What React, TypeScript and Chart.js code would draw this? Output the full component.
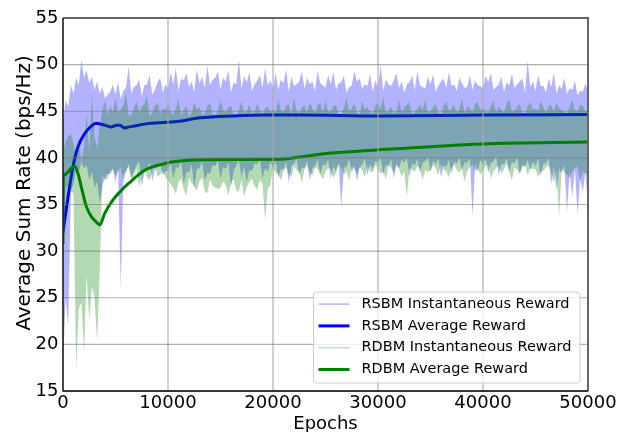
import { useEffect, useRef } from "react";
import { Chart, registerables } from "chart.js";

Chart.register(...registerables);

// ---------- data ----------
// Instantaneous rewards are dense; each is given as the upper and lower envelope
// of the noisy trace per 250-epoch bin (epoch = index * EPOCH_STEP).
const EPOCH_STEP = 250;

const RSBM_HIGH = [
  44.0, 46.2, 45.5, 47.8, 46.9, 48.6, 47.8, 50.5, 48.6, 49.4, 48.0, 48.7, 47.3, 48.2, 46.9, 47.6, 46.4, 46.8, 47.1, 47.9,
  46.8, 48.1, 46.3, 47.2, 47.5, 49.8, 46.9, 47.6, 47.8, 48.4, 46.6, 47.8, 47.9, 48.9, 46.8, 47.3, 48.1, 48.6, 47.0, 47.9,
  47.4, 49.2, 47.9, 49.7, 47.2, 48.5, 48.3, 49.1, 47.6, 48.2, 47.1, 49.5, 48.0, 48.7, 47.5, 49.9, 47.8, 48.4, 48.6, 49.3,
  47.3, 48.6, 48.2, 49.4, 47.0, 48.1, 47.9, 50.5, 47.4, 48.8, 48.1, 49.2, 47.2, 47.9, 48.3, 48.9, 47.5, 49.6, 47.8, 48.3,
  47.6, 49.1, 47.3, 48.4, 48.0, 49.5, 47.1, 48.7, 47.7, 47.9, 48.2, 49.3, 47.4, 48.6, 47.9, 48.2, 47.2, 49.4, 48.0, 47.8,
  47.5, 48.9, 47.9, 49.2, 47.3, 48.0, 48.1, 48.8, 47.0, 47.6, 47.8, 49.3, 48.2, 48.5, 47.4, 47.9, 47.7, 49.0, 47.1, 48.3,
  47.6, 50.0, 47.2, 48.4, 47.9, 47.7, 48.3, 49.1, 47.5, 48.2, 47.0, 47.9, 48.1, 48.8, 47.3, 49.3, 47.8, 47.6, 47.4, 48.7,
  47.9, 49.0, 47.1, 47.8, 48.2, 48.5, 47.5, 49.2, 47.7, 47.9, 47.2, 48.6, 48.0, 47.5, 47.6, 48.9, 47.3, 48.3, 47.8, 47.7,
  47.4, 48.8, 48.1, 49.1, 47.3, 47.6, 47.9, 48.7, 47.1, 48.1, 47.8, 49.0, 47.5, 47.9, 48.2, 48.5, 47.0, 50.4, 47.6, 48.2,
  47.2, 48.9, 47.7, 47.7, 47.0, 48.5, 47.6, 49.1, 46.9, 47.8, 47.4, 48.6, 46.8, 47.5, 47.3, 48.3, 46.7, 47.2, 47.1, 48.0,
  47.0,
];

const RSBM_LOW = [
  17.5, 25.0, 22.0, 36.5, 37.2, 38.8, 38.4, 39.6, 38.9, 39.2, 37.6, 38.5, 36.8, 37.4, 35.2, 37.0, 37.9, 38.3, 38.3, 38.8,
  37.4, 38.9, 26.0, 38.2, 38.6, 39.3, 37.9, 38.5, 39.2, 39.6, 36.9, 38.4, 38.8, 39.5, 37.5, 38.7, 39.0, 39.4, 38.1, 38.6,
  38.6, 39.5, 37.8, 39.0, 38.9, 39.7, 37.2, 38.5, 38.4, 39.3, 36.8, 38.8, 38.9, 39.6, 37.6, 38.4, 38.3, 39.2, 39.1, 39.8,
  37.7, 39.0, 38.8, 39.5, 36.9, 38.6, 39.2, 39.8, 38.0, 39.1, 37.4, 38.7, 38.6, 39.4, 39.3, 39.9, 37.8, 38.9, 38.5, 39.6,
  39.0, 39.7, 37.9, 38.8, 38.8, 39.6, 37.3, 39.1, 39.4, 39.9, 38.2, 39.0, 38.9, 39.7, 37.6, 38.9, 39.1, 39.8, 38.3, 39.3,
  39.2, 39.8, 37.8, 39.1, 38.6, 39.5, 34.7, 39.0, 39.0, 39.9, 38.4, 39.2, 37.5, 39.0, 39.3, 40.0, 38.1, 39.4, 38.8, 39.7,
  39.4, 40.1, 38.2, 39.3, 39.1, 39.9, 37.8, 39.2, 38.9, 39.8, 39.5, 40.0, 38.0, 39.4, 39.2, 39.9, 38.4, 39.5, 39.6, 40.1,
  38.6, 39.7, 39.3, 40.0, 37.9, 39.2, 39.0, 39.8, 38.3, 39.6, 39.4, 40.1, 38.7, 39.5, 39.5, 40.0, 33.7, 39.3, 38.6, 39.8,
  39.2, 39.9, 38.4, 39.5, 39.6, 40.2, 38.1, 39.4, 39.3, 40.0, 38.5, 39.6, 39.4, 40.1, 38.2, 39.3, 39.0, 39.8, 38.7, 39.6,
  39.1, 39.9, 38.0, 39.4, 39.4, 40.0, 37.2, 39.1, 36.5, 38.8, 38.4, 39.3, 34.2, 38.6, 35.8, 38.9, 34.0, 37.8, 36.3, 38.5,
  34.5,
];

const RDBM_HIGH = [
  40.5, 41.8, 42.3, 42.6, 41.5, 40.2, 42.0, 39.5, 41.2, 44.8, 40.6, 46.8, 42.3, 41.0, 43.5, 45.1, 46.2, 44.6, 45.6, 44.9,
  46.4, 44.8, 45.2, 45.6, 47.0, 44.5, 44.6, 45.3, 46.1, 44.9, 45.5, 45.8, 46.7, 44.4, 44.9, 45.5, 46.0, 44.7, 45.3, 45.1,
  45.8, 44.9, 44.6, 45.3, 46.3, 44.5, 45.1, 45.6, 44.4, 44.8, 46.0, 45.2, 45.4, 44.6, 44.8, 45.5, 45.9, 44.7, 44.5, 45.0,
  46.2, 45.1, 44.9, 45.4, 45.6, 44.6, 44.3, 45.2, 46.1, 44.8, 45.0, 45.7, 44.7, 44.9, 45.8, 45.1, 44.6, 45.3, 45.5, 44.9,
  45.2, 44.8, 46.3, 45.1, 44.9, 45.6, 45.8, 44.6, 46.5, 45.0, 44.7, 45.4, 45.6, 44.9, 46.0, 45.3, 44.8, 45.7, 45.9, 44.7,
  46.2, 44.9, 45.0, 45.5, 45.7, 44.7, 44.6, 45.4, 46.4, 45.0, 45.3, 45.8, 44.9, 44.6, 46.1, 45.2, 45.5, 44.8, 44.8, 45.6,
  45.9, 45.2, 46.5, 44.8, 45.1, 45.5, 44.7, 45.0, 46.2, 44.9, 45.4, 45.7, 46.0, 44.6, 44.9, 45.3, 45.7, 45.1, 46.3, 44.8,
  45.0, 45.4, 45.8, 44.9, 44.6, 45.5, 46.1, 45.0, 45.3, 45.7, 44.8, 45.2, 46.4, 44.7, 45.6, 45.3, 44.9, 45.8, 46.0, 45.1,
  45.4, 45.0, 44.7, 45.6, 46.2, 44.8, 45.5, 45.1, 44.9, 45.7, 46.3, 44.9, 45.1, 45.4, 45.8, 44.7, 44.6, 45.5, 46.0, 45.2,
  45.3, 45.0, 46.1, 45.4, 44.8, 45.6, 45.7, 44.9, 45.9, 45.3, 45.2, 44.8, 44.7, 45.5, 46.2, 45.1, 45.0, 45.7, 45.6, 45.0,
  45.1,
];

const RDBM_LOW = [
  30.5, 36.8, 37.0, 36.4, 36.2, 17.3, 23.8, 24.5, 19.0, 27.5, 22.5, 26.2, 25.0, 20.3, 28.0, 38.2, 37.6, 37.8, 38.5, 38.9,
  38.1, 38.6, 39.0, 37.4, 38.5, 39.1, 37.7, 38.0, 38.9, 36.8, 38.3, 38.8, 37.9, 37.6, 38.7, 39.3, 38.0, 38.2, 38.6, 37.9,
  37.6, 37.2, 36.8, 36.1, 37.4, 37.8, 36.6, 35.9, 37.9, 37.3, 36.9, 36.5, 37.5, 37.9, 36.4, 36.2, 37.7, 37.0, 36.8, 36.7,
  36.8, 37.5, 37.1, 36.0, 37.3, 37.7, 36.5, 36.4, 37.6, 35.8, 36.9, 37.4, 37.8, 36.9, 36.6, 37.6, 37.2, 33.3, 36.7, 37.1,
  38.9, 38.4, 38.2, 37.6, 38.6, 39.0, 38.3, 37.9, 39.1, 38.7, 38.5, 37.3, 38.8, 39.2, 38.4, 38.1, 39.0, 38.8, 38.2, 37.7,
  38.5, 38.9, 38.8, 37.8, 38.4, 39.3, 38.9, 38.2, 38.6, 37.5, 39.1, 38.8, 38.3, 39.0, 38.7, 37.9, 39.2, 38.6, 38.4, 39.2,
  38.8, 38.3, 38.5, 37.7, 39.2, 38.9, 38.4, 39.4, 38.8, 38.0, 38.6, 35.8, 39.0, 38.7, 38.5, 39.1, 38.9, 37.6, 38.7, 38.5,
  38.6, 39.2, 38.9, 38.1, 39.4, 38.8, 38.5, 37.9, 39.0, 39.3, 38.7, 38.4, 38.9, 37.4, 38.6, 39.0, 39.3, 38.6, 38.8, 38.2,
  38.7, 39.1, 39.3, 37.8, 38.6, 38.9, 39.2, 38.3, 38.8, 39.4, 38.5, 37.6, 39.0, 38.7, 38.4, 39.0, 39.3, 38.1, 38.9, 38.8,
  38.8, 37.9, 38.5, 38.6, 39.0, 39.2, 38.4, 37.3, 38.7, 33.7, 38.9, 38.4, 38.2, 37.8, 38.6, 38.9, 39.1, 37.5, 38.6, 38.3,
  38.4,
];

const RSBM_AVG_EPOCHS = [0, 170, 480, 950, 1430, 2070, 2700, 3170, 3650, 4290, 4600, 5080, 5400, 5880, 6190, 6670, 8290, 10860, 13050, 16190, 19430, 22570, 29900, 40000, 50000];
const RSBM_AVG = [32.0, 33.4, 35.8, 39.05, 41.2, 42.6, 43.4, 43.7, 43.6, 43.4, 43.3, 43.5, 43.5, 43.2, 43.3, 43.4, 43.7, 43.9, 44.3, 44.5, 44.6, 44.6, 44.5, 44.6, 44.65];

const RDBM_AVG_EPOCHS = [0, 30, 160, 480, 950, 1110, 1430, 1740, 2220, 2700, 3330, 3500, 3970, 4760, 5550, 6190, 7810, 9710, 10670, 13050, 20380, 22570, 24480, 29900, 40000, 50000];
const RDBM_AVG = [30.8, 38.3, 38.2, 38.5, 39.05, 39.1, 38.3, 36.9, 34.8, 33.7, 32.95, 32.8, 34.05, 35.5, 36.5, 37.2, 38.7, 39.4, 39.6, 39.8, 39.85, 40.1, 40.4, 40.85, 41.5, 41.7];

const X_TICKS = [0, 10000, 20000, 30000, 40000, 50000];
const Y_TICKS = [15, 20, 25, 30, 35, 40, 45, 50, 55];

const X_TITLE = "Epochs";
const Y_TITLE = "Average Sum Rate (bps/Hz)";

const SERIES_LABELS = [
  "RSBM Instantaneous Reward",
  "RSBM Average Reward",
  "RDBM Instantaneous Reward",
  "RDBM Average Reward",
];

const FONT = "DejaVu Sans";

const COLORS = {
  rsbmInst: "rgba(0,0,255,0.3)",
  rsbmAvg: "#0000ff",
  rdbmInst: "rgba(0,128,0,0.3)",
  rdbmAvg: "#008000",
};

// ---------- overlay plugin: grid on top, spines, titles, legend ----------
const overlayPlugin = {
  id: "overlay",
  afterDatasetsDraw(chart: any) {
    const { ctx, chartArea: a, scales } = chart;
    const x = scales.x;
    const y = scales.y;
    ctx.save();

    // vertical grid
    ctx.strokeStyle = "rgba(170,170,170,0.55)";
    ctx.lineWidth = 2;
    for (const v of X_TICKS) {
      const px = x.getPixelForValue(v);
      ctx.beginPath();
      ctx.moveTo(px, a.top);
      ctx.lineTo(px, a.bottom);
      ctx.stroke();
    }
    // horizontal grid
    ctx.strokeStyle = "rgba(120,120,120,0.6)";
    ctx.lineWidth = 1.2;
    for (const v of Y_TICKS) {
      const py = y.getPixelForValue(v);
      ctx.beginPath();
      ctx.moveTo(a.left, py);
      ctx.lineTo(a.right, py);
      ctx.stroke();
    }

    // spines
    ctx.strokeStyle = "#666666";
    ctx.lineWidth = 2;
    ctx.beginPath();
    ctx.moveTo(a.left, a.top);
    ctx.lineTo(a.right, a.top);
    ctx.lineTo(a.right, a.bottom);
    ctx.stroke();
    ctx.strokeStyle = "#000000";
    ctx.lineWidth = 1.3;
    ctx.beginPath();
    ctx.moveTo(a.left, a.top);
    ctx.lineTo(a.left, a.bottom);
    ctx.lineTo(a.right, a.bottom);
    ctx.stroke();

    // axis titles
    ctx.fillStyle = "#000";
    ctx.textAlign = "center";
    ctx.textBaseline = "alphabetic";
    ctx.font = `18px "${FONT}"`;
    ctx.fillText(X_TITLE, (a.left + a.right) / 2, a.bottom + 37.8);
    ctx.save();
    ctx.font = `20px "${FONT}"`;
    ctx.translate(a.left - 33.4, (a.top + a.bottom) / 2 - 11.5);
    ctx.rotate(-Math.PI / 2);
    ctx.fillText(Y_TITLE, 0, 0);
    ctx.restore();

    // legend
    const fontSize = 14.5;
    ctx.font = `${fontSize}px "${FONT}"`;
    let maxW = 0;
    for (const t of SERIES_LABELS) maxW = Math.max(maxW, ctx.measureText(t).width);
    const rowH = 21.8;
    const padTop = 12;
    const padBottom = 13.5;
    const textOffset = 48;
    const w = textOffset + maxW + 8.5;
    const h = padTop + rowH * (SERIES_LABELS.length - 1) + padBottom;
    const lx = a.right - 8 - w;
    const ly = a.bottom - 8 - h;
    ctx.beginPath();
    const r = 3;
    ctx.moveTo(lx + r, ly);
    ctx.lineTo(lx + w - r, ly);
    ctx.arcTo(lx + w, ly, lx + w, ly + r, r);
    ctx.lineTo(lx + w, ly + h - r);
    ctx.arcTo(lx + w, ly + h, lx + w - r, ly + h, r);
    ctx.lineTo(lx + r, ly + h);
    ctx.arcTo(lx, ly + h, lx, ly + h - r, r);
    ctx.lineTo(lx, ly + r);
    ctx.arcTo(lx, ly, lx + r, ly, r);
    ctx.closePath();
    ctx.fillStyle = "rgba(255,255,255,0.8)";
    ctx.fill();
    ctx.strokeStyle = "rgba(204,204,204,1)";
    ctx.lineWidth = 1;
    ctx.stroke();

    const styles = [
      { c: COLORS.rsbmInst, w: 1.5 },
      { c: COLORS.rsbmAvg, w: 3 },
      { c: COLORS.rdbmInst, w: 1.2 },
      { c: COLORS.rdbmAvg, w: 3 },
    ];
    SERIES_LABELS.forEach((t, i) => {
      const cy = ly + padTop + i * rowH;
      ctx.strokeStyle = styles[i].c;
      ctx.lineWidth = styles[i].w;
      ctx.beginPath();
      ctx.moveTo(lx + 5, cy);
      ctx.lineTo(lx + 36, cy);
      ctx.stroke();
      ctx.fillStyle = "#000";
      ctx.textBaseline = "middle";
      ctx.textAlign = "left";
      ctx.fillText(t, lx + textOffset, cy);
    });

    ctx.restore();
  },
};

const binned = (arr: number[]) => arr.map((v, i) => ({ x: i * EPOCH_STEP, y: v }));
const paired = (xs: number[], ys: number[]) => ys.map((v, i) => ({ x: xs[i], y: v }));

export default function App() {
  const canvasRef = useRef<HTMLCanvasElement | null>(null);

  useEffect(() => {
    const canvas = canvasRef.current;
    if (!canvas) return;
    Chart.defaults.font.family = FONT;

    const envelopeEdge = {
      borderColor: "rgba(0,0,0,0)",
      borderWidth: 0,
      pointRadius: 0,
      tension: 0,
    };

    const chart = new Chart(canvas, {
      type: "line",
      data: {
        datasets: [
          {
            label: SERIES_LABELS[0] + " (upper)",
            data: binned(RSBM_HIGH),
            ...envelopeEdge,
            fill: false,
            order: 6,
          },
          {
            label: SERIES_LABELS[0],
            data: binned(RSBM_LOW),
            ...envelopeEdge,
            backgroundColor: COLORS.rsbmInst,
            fill: "-1",
            order: 5,
          },
          {
            label: SERIES_LABELS[1],
            data: paired(RSBM_AVG_EPOCHS, RSBM_AVG),
            borderColor: COLORS.rsbmAvg,
            borderWidth: 3,
            pointRadius: 0,
            cubicInterpolationMode: "monotone",
            fill: false,
            order: 4,
          },
          {
            label: SERIES_LABELS[2] + " (upper)",
            data: binned(RDBM_HIGH),
            ...envelopeEdge,
            fill: false,
            order: 3,
          },
          {
            label: SERIES_LABELS[2],
            data: binned(RDBM_LOW),
            ...envelopeEdge,
            backgroundColor: COLORS.rdbmInst,
            fill: "-1",
            order: 2,
          },
          {
            label: SERIES_LABELS[3],
            data: paired(RDBM_AVG_EPOCHS, RDBM_AVG),
            borderColor: COLORS.rdbmAvg,
            borderWidth: 3,
            pointRadius: 0,
            cubicInterpolationMode: "monotone",
            fill: false,
            order: 1,
          },
        ],
      },
      options: {
        responsive: false,
        animation: false,
        devicePixelRatio: 1,
        layout: { padding: { top: 18, right: 40, left: 0, bottom: 0 } },
        plugins: {
          legend: { display: false },
          tooltip: { enabled: false },
        },
        scales: {
          x: {
            type: "linear",
            min: 0,
            max: 50000,
            grid: { display: false, drawTicks: false },
            border: { display: false },
            afterBuildTicks: (s: any) => {
              s.ticks = X_TICKS.map((v) => ({ value: v }));
            },
            afterFit: (s: any) => {
              s.height = 41;
            },
            ticks: {
              font: { family: FONT, size: 18 },
              color: "#000",
              padding: 2,
              maxRotation: 0,
              autoSkip: false,
              callback: (v: any) => String(v),
            },
          },
          y: {
            type: "linear",
            min: 15,
            max: 55,
            grid: { display: false, drawTicks: false },
            border: { display: false },
            afterBuildTicks: (s: any) => {
              s.ticks = Y_TICKS.map((v) => ({ value: v }));
            },
            afterFit: (s: any) => {
              s.width = 63;
            },
            ticks: {
              font: { family: FONT, size: 18 },
              color: "#000",
              padding: 4.5,
              autoSkip: false,
              callback: (v: any) => String(v),
            },
          },
        },
      },
      plugins: [overlayPlugin],
    } as any);

    return () => chart.destroy();
  }, []);

  return (
    <div style={{ position: "fixed", left: 0, top: 0, width: 628, height: 432, background: "#fff" }}>
      <canvas ref={canvasRef} width={628} height={432} style={{ display: "block" }} />
    </div>
  );
}
